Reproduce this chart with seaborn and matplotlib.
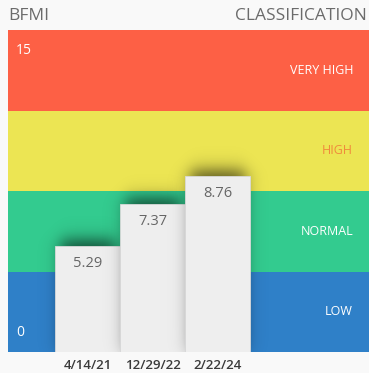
import numpy as np
import pandas as pd
import matplotlib
matplotlib.use("Agg")
import matplotlib.pyplot as plt
import seaborn as sns

# Measurements
dates = ["4/14/21", "12/29/22", "2/22/24"]
bfmi = [5.29, 7.37, 8.76]

# Classification bands (bottom to top)
band_names = ["LOW", "NORMAL", "HIGH", "VERY HIGH"]
band_edges = [0, 4, 8, 12, 16]
band_colors = ["#2f80c8", "#33cb8f", "#ece553", "#fd6045"]
band_label_colors = ["white", "white", "#f08a3c", "white"]
scale_labels = ["0", "15"]

W, H = 369, 373
BG = "#f9f9f9"
TXT = "#666666"

sns.set_theme(style="white")
plt.rcParams["font.family"] = ["Open Sans", "DejaVu Sans"]

fig = plt.figure(figsize=(W / 100, H / 100), dpi=100, facecolor=BG)
ax = fig.add_axes([8 / W, 21 / H, 361 / W, 322 / H])
ax.set_facecolor(BG)

ymax = band_edges[-1]
xmin = -1.23
xmax = xmin + 361 / 65.0

df = pd.DataFrame({"date": dates, "bfmi": bfmi})
sns.barplot(data=df, x="date", y="bfmi", order=dates, width=1.0,
            color="#eeeeee", saturation=1, edgecolor="#d9d9d9",
            linewidth=0.6, ax=ax)
bars = list(ax.patches)

# coloured classification bands
for lo, hi, c in zip(band_edges[:-1], band_edges[1:], band_colors):
    ax.axhspan(lo, hi, color=c, zorder=0, lw=0)

# soft drop shadow behind each bar, layered so each casts onto the previous
px_x = 361 / (xmax - xmin)
px_y = 322 / ymax
xs = np.linspace(xmin, xmax, 722)
ys = np.linspace(0, ymax, 644)
X, Y = np.meshgrid(xs, ys)


def smooth(t):
    return 0.5 * (1 + np.tanh(t))


sig = 9.5
for i, (patch, v) in enumerate(zip(bars, bfmi)):
    sx = smooth((X - (i - 0.42)) * px_x / sig) * smooth(((i + 0.42) - X) * px_x / sig)
    sy = smooth(Y * px_y / sig) * smooth((v + 0.3 - Y) * px_y / sig)
    rgba = np.zeros(X.shape + (4,))
    rgba[..., 3] = 0.6 * sx * sy
    ax.imshow(rgba, extent=(xmin, xmax, 0, ymax), origin="lower",
              aspect="auto", zorder=2 + 2 * i, interpolation="bilinear")
    patch.set_zorder(3 + 2 * i)
    ax.text(i, v - 0.9, f"{v:.2f}", ha="center", va="center",
            fontsize=10.5, color=TXT, zorder=20)

ax.set_xlim(xmin, xmax)
ax.set_ylim(0, ymax)
ax.set_yticks([])
ax.set_xlabel("")
ax.set_ylabel("")
ax.tick_params(axis="x", length=0, pad=5, labelsize=9.5, labelcolor="#3a3a3a")
for lab in ax.get_xticklabels():
    lab.set_fontweight("semibold")
for s in ax.spines.values():
    s.set_visible(False)

# band names on the right
for lo, hi, name, c in zip(band_edges[:-1], band_edges[1:], band_names, band_label_colors):
    ax.text(0.956, (lo + hi) / 2 / ymax, name, transform=ax.transAxes,
            ha="right", va="center", fontsize=9, color=c, zorder=20)

# scale endpoints on the left
ax.text(0.022, 0.06, scale_labels[0], transform=ax.transAxes, ha="left",
        va="center", fontsize=10, color="white", zorder=20)
ax.text(0.022, 0.935, scale_labels[1], transform=ax.transAxes, ha="left",
        va="center", fontsize=10, color="white", zorder=20)

# header
fig.text(8 / W, 1 - 16 / H, "BFMI", ha="left", va="center", fontsize=12.5, color="#6b6b6b")
fig.text(367 / W, 1 - 16 / H, "CLASSIFICATION", ha="right", va="center",
         fontsize=12.5, color="#6b6b6b")

fig.savefig("out.png", dpi=100, facecolor=BG)
